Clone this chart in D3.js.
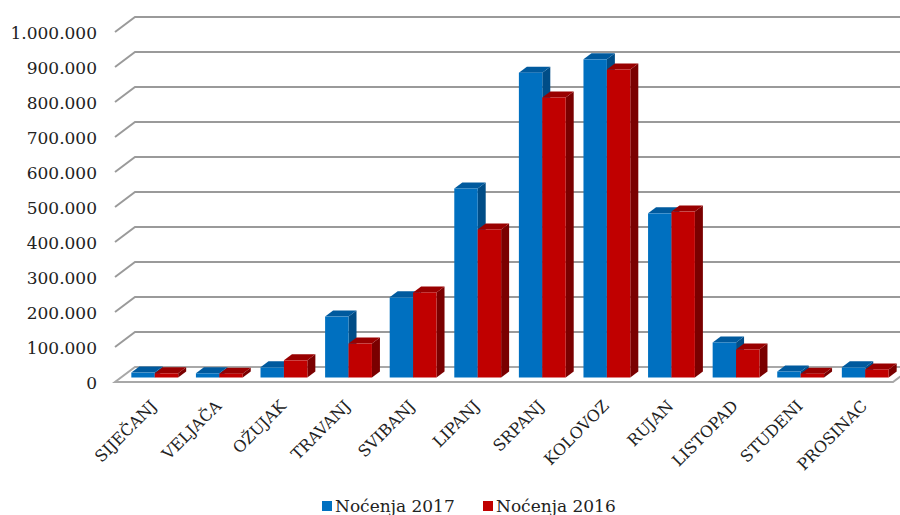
<!DOCTYPE html>
<html>
<head>
<meta charset="utf-8">
<script src="https://cdn.jsdelivr.net/npm/d3@7"></script>
<style>
  body { margin: 0; background: #fff; }
  text { font-family: "DejaVu Serif", serif; fill: #222; }
</style>
</head>
<body>
<svg id="chart" width="900" height="515"></svg>
<script>
// Months (Croatian)
const months = ['SIJEČANJ', 'VELJAČA', 'OŽUJAK', 'TRAVANJ', 'SVIBANJ', 'LIPANJ',
                'SRPANJ', 'KOLOVOZ', 'RUJAN', 'LISTOPAD', 'STUDENI', 'PROSINAC'];
// Overnight stays per month
const nocenja2017 = [14000, 12000, 29000, 174000, 229000, 540000, 871000, 909000, 469000, 100000, 17000, 29000];
const nocenja2016 = [12000, 11000, 49000, 97000, 243000, 423000, 800000, 880000, 474000, 80000, 11000, 23000];
const seriesNames = ['Noćenja 2017', 'Noćenja 2016'];
const yTicks = [0, 100000, 200000, 300000, 400000, 500000, 600000, 700000, 800000, 900000, 1000000];

const colors = [
  { front: '#0070C0', top: '#005A9E', side: '#004D87' },
  { front: '#C00000', top: '#990000', side: '#7A0000' }
];

const svg = d3.select('#chart');

// depth of the 3D box
const depth = { dx: 20, dy: -15 };
const barFront = 0.3, barBack = 0.7; // position of bars in the depth

const x0 = d3.scaleBand()
    .domain(months)
    .range([115, 893])
    .paddingInner(0.275)
    .paddingOuter(0.16);

const x1 = d3.scaleBand()
    .domain([0, 1])
    .range([0, x0.bandwidth()]);

const y = d3.scaleLinear()
    .domain([0, 1000000])
    .range([382, 32]);

const fmt = v => d3.format(',')(v).replace(/,/g, '.');

// gridlines on the back wall with the left diagonal
const grid = svg.append('g').attr('class', 'grid');
grid.selectAll('path')
    .data(yTicks.filter(v => v > 0))
    .enter()
    .append('path')
    .attr('d', v => `M115,${y(v)}L${115 + depth.dx},${y(v) + depth.dy}L905,${y(v) + depth.dy}`)
    .attr('fill', 'none')
    .attr('stroke', '#9a9a9a')
    .attr('stroke-width', 2);

// floor
const fx0 = x0.range()[0], fx1 = x0.range()[1];
svg.append('path')
    .attr('d', `M${fx0},${y(0)}L${fx1},${y(0)}L${fx1 + depth.dx},${y(0) + depth.dy}L${fx0 + depth.dx},${y(0) + depth.dy}Z`)
    .attr('fill', '#fff')
    .attr('stroke', '#a8a8a8')
    .attr('stroke-width', 2);

// y labels
svg.append('g')
    .selectAll('text')
    .data(yTicks)
    .enter()
    .append('text')
    .attr('x', 97)
    .attr('y', v => y(v) + 1)
    .attr('dy', '0.35em')
    .attr('text-anchor', 'end')
    .attr('font-size', 17)
    .text(fmt);

// bars
const ox = depth.dx * barFront, oy = depth.dy * barFront;
const bx = depth.dx * (barBack - barFront), by = depth.dy * (barBack - barFront);

const barData = [];
months.forEach((m, i) => {
  [nocenja2017[i], nocenja2016[i]].forEach((v, s) => {
    barData.push({ month: m, s: s, v: v });
  });
});

const bars = svg.append('g').attr('class', 'bars')
    .selectAll('g')
    .data(barData)
    .enter()
    .append('g')
    .each(function(d) {
      const g = d3.select(this);
      const left = x0(d.month) + x1(d.s) + ox;
      const right = left + x1.bandwidth();
      const top = y(d.v) + oy;
      const bottom = y(0) + oy;
      const c = colors[d.s];
      // side face
      g.append('path')
        .attr('d', `M${right},${top}L${right + bx},${top + by}L${right + bx},${bottom + by}L${right},${bottom}Z`)
        .attr('fill', c.side);
      // top face
      g.append('path')
        .attr('d', `M${left},${top}L${left + bx},${top + by}L${right + bx},${top + by}L${right},${top}Z`)
        .attr('fill', c.top);
      // front face
      g.append('rect')
        .attr('x', left)
        .attr('y', top)
        .attr('width', right - left)
        .attr('height', bottom - top)
        .attr('fill', c.front);
    });

// month labels
svg.append('g')
    .selectAll('text')
    .data(months)
    .enter()
    .append('text')
    .attr('transform', m => `translate(${x0(m) + x0.bandwidth() / 2 + 9},${y(0) + 25}) rotate(-45)`)
    .attr('text-anchor', 'end')
    .attr('font-size', 16)
    .text(m => m);

// legend
const legend = svg.append('g').attr('class', 'legend');
const legendX = [322, 483];
seriesNames.forEach((name, s) => {
  legend.append('rect')
    .attr('x', legendX[s])
    .attr('y', 501)
    .attr('width', 10)
    .attr('height', 10)
    .attr('fill', colors[s].front);
  legend.append('text')
    .attr('x', legendX[s] + 13)
    .attr('y', 512)
    .attr('font-size', 17)
    .text(name);
});
</script>
</body>
</html>
